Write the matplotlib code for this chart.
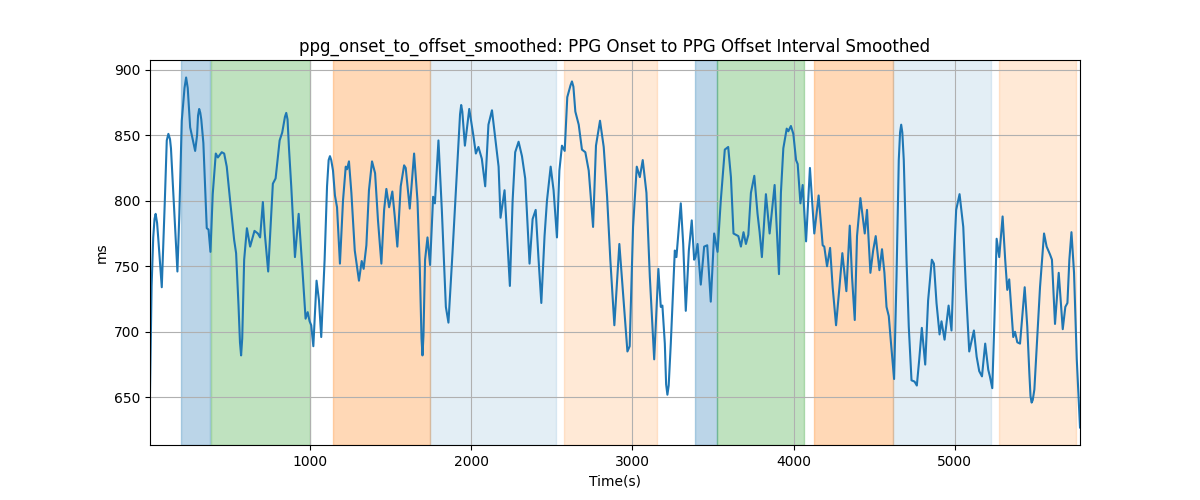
import matplotlib
matplotlib.use("Agg")
import matplotlib.pyplot as plt

time_s = [8, 18, 28, 36, 43, 52, 60, 81, 100, 112, 122, 132, 138, 153, 178, 190, 205, 222, 232, 242, 257, 288, 300, 306, 313, 320, 326, 339,
          350, 360, 371, 383, 397, 416, 429, 453, 468, 484, 505, 530, 542, 557, 566, 573, 580, 592, 609, 629, 656, 677,
          691, 708, 720, 741, 770, 787, 812, 828, 845, 853, 861, 870, 884, 907, 930, 952, 973, 986, 998, 1008, 1021, 1041,
          1056, 1070, 1091, 1106, 1116, 1124, 1132, 1143, 1155, 1168, 1186, 1205, 1222, 1230, 1242, 1257, 1278, 1304, 1321, 1333, 1350, 1366,
          1385, 1404, 1422, 1443, 1460, 1474, 1491, 1511, 1526, 1542, 1563, 1584, 1594, 1619, 1646, 1667, 1681, 1692, 1698, 1704, 1714, 1729,
          1745, 1764, 1775, 1797, 1818, 1843, 1859, 1884, 1909, 1931, 1938, 1945, 1961, 1988, 2012, 2029, 2045, 2066, 2087, 2107, 2129, 2153,
          2170, 2182, 2207, 2222, 2240, 2257, 2273, 2294, 2315, 2335, 2362, 2381, 2400, 2418, 2435, 2455, 2470, 2493, 2511, 2532,
          2547, 2563, 2580, 2596, 2616, 2625, 2634, 2646, 2667, 2687, 2708, 2729, 2756, 2774, 2799, 2822, 2843, 2863, 2888, 2919, 2942, 2969,
          2983, 3004, 3027, 3046, 3064, 3087, 3108, 3135, 3161, 3176, 3186, 3201, 3209, 3217, 3225, 3238, 3263, 3273, 3300, 3315, 3331, 3350,
          3368, 3383, 3391, 3404, 3424, 3445, 3464, 3486, 3507, 3528, 3548, 3573, 3594, 3611, 3627, 3642, 3657, 3673, 3689, 3704,
          3719, 3735, 3756, 3776, 3789, 3803, 3828, 3851, 3882, 3909, 3921, 3936, 3957, 3967, 3983, 3998, 4015, 4025, 4042, 4056,
          4077, 4101, 4128, 4155, 4180, 4190, 4207, 4226, 4242, 4263, 4284, 4302, 4327, 4348, 4362, 4379, 4393, 4414, 4441, 4455,
          4476, 4493, 4509, 4532, 4548, 4563, 4576, 4590, 4604, 4623, 4638, 4652, 4660, 4667, 4674, 4683, 4700, 4714, 4731, 4750, 4764, 4779,
          4795, 4816, 4834, 4857, 4870, 4886, 4905, 4917, 4936, 4961, 4979, 4994, 5008, 5029, 5052, 5068, 5089, 5118, 5135, 5151,
          5168, 5188, 5207, 5217, 5232, 5244, 5259, 5275, 5296, 5312, 5325, 5337, 5352, 5362, 5373, 5387, 5404, 5416, 5433, 5449,
          5462, 5469, 5476, 5483, 5493, 5511, 5528, 5553, 5569, 5590, 5602, 5621, 5644, 5669, 5685, 5698, 5710, 5723, 5739, 5756, 5776]

interval_ms = [655, 735, 772, 786, 790, 783, 770, 734, 800, 846, 851, 847, 840, 805, 746, 790, 861, 886, 894, 886, 856, 838, 850, 865, 870, 867, 862, 844,
               810, 779, 778, 761, 805, 836, 833, 837, 836, 826, 800, 770, 760, 720, 692, 682, 695, 755, 779, 765, 777, 775,
               772, 799, 775, 746, 813, 817, 846, 852, 864, 867, 862, 840, 811, 757, 790, 750, 710, 715, 708, 705, 689, 739,
               724, 696, 755, 811, 831, 834, 831, 823, 804, 795, 752, 800, 826, 824, 830, 806, 762, 739, 754, 748, 766, 808,
               830, 821, 785, 752, 793, 809, 795, 807, 788, 765, 811, 827, 825, 794, 836, 800, 750, 695, 682, 697, 755, 772,
               751, 803, 798, 846, 793, 719, 707, 760, 816, 866, 873, 868, 842, 870, 851, 836, 841, 832, 811, 858, 869, 844,
               826, 787, 808, 775, 735, 800, 837, 845, 834, 817, 752, 786, 793, 755, 722, 773, 800, 826, 808, 772,
               823, 842, 838, 879, 888, 891, 887, 868, 858, 839, 837, 823, 780, 842, 861, 841, 803, 755, 705, 767, 729, 685,
               689, 780, 826, 818, 831, 806, 742, 679, 748, 719, 720, 691, 660, 652, 659, 691, 762, 757, 798, 767, 716, 762,
               785, 755, 757, 767, 736, 765, 766, 723, 775, 761, 800, 839, 841, 818, 775, 774, 773, 765, 776, 767,
               774, 806, 819, 790, 776, 757, 805, 775, 812, 744, 806, 840, 855, 853, 857, 851, 831, 828, 798, 812,
               769, 825, 775, 804, 766, 765, 750, 764, 734, 705, 734, 760, 731, 781, 742, 709, 773, 802, 775, 793,
               745, 762, 773, 747, 763, 745, 719, 712, 691, 664, 742, 831, 852, 858, 852, 831, 755, 704, 663, 662, 659, 679,
               703, 675, 724, 755, 752, 722, 698, 708, 694, 720, 701, 755, 793, 805, 780, 734, 685, 701, 681, 670,
               666, 691, 671, 666, 657, 704, 771, 757, 788, 755, 732, 740, 714, 696, 700, 692, 691, 709, 734, 704,
               668, 651, 646, 648, 656, 696, 734, 775, 765, 759, 755, 706, 745, 702, 719, 722, 755, 776, 745, 679, 627]

# Shaded phases (start, end in seconds)
span_starts = [199, 385, 1143, 1743, 2578, 3387, 3524, 4124, 4619, 5273]
span_ends = [379, 998, 1743, 2526, 3155, 3524, 4066, 4619, 5222, 5752]
span_styles = [("tab:blue", 0.3), ("tab:green", 0.3), ("tab:orange", 0.3), ("tab:blue", 0.12),
               ("tab:orange", 0.17), ("tab:blue", 0.3), ("tab:green", 0.3), ("tab:orange", 0.3),
               ("tab:blue", 0.12), ("tab:orange", 0.17)]

fig, ax = plt.subplots(figsize=(12, 5), dpi=100)
for s, e, (c, a) in zip(span_starts, span_ends, span_styles):
    ax.axvspan(s, e, color=c, alpha=a)
ax.plot(time_s, interval_ms, color="tab:blue", linewidth=1.5)
ax.set_xlim(time_s[0], time_s[-1])
ax.grid(True)
ax.set_title("ppg_onset_to_offset_smoothed: PPG Onset to PPG Offset Interval Smoothed")
ax.set_xlabel("Time(s)")
ax.set_ylabel("ms")
fig.savefig("out.png")
